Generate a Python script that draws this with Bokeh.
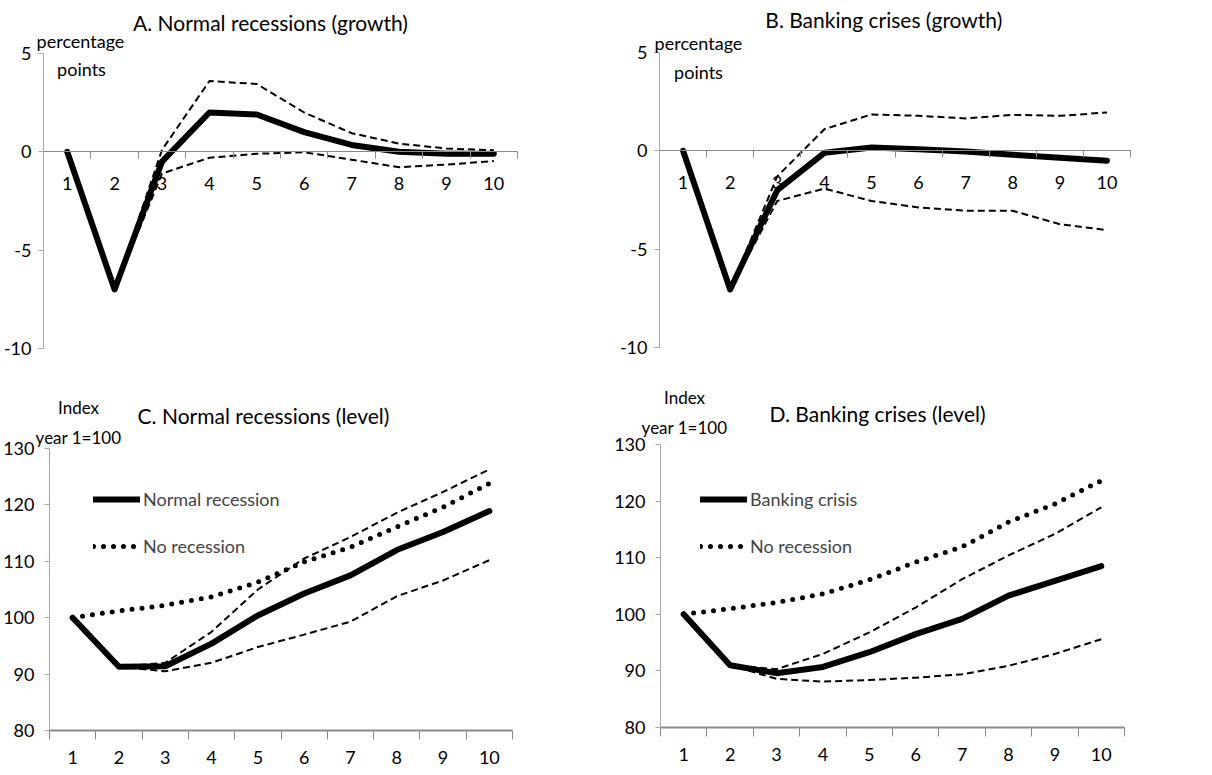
from bokeh.plotting import figure
from bokeh.layouts import column, row
from bokeh.models import Range1d, FixedTicker, Label, Legend, LegendItem, PrintfTickFormatter
from bokeh.embed import file_html
from bokeh.resources import INLINE

FONT = "Lato"
AXIS_COLOR = "#8a8a8a"
YAXIS_COLOR = "#a8a8a8"

# ---------------- data ----------------
years = [1, 2, 3, 4, 5, 6, 7, 8, 9, 10]

# Panel A: normal recessions (growth, percentage points)
a_mean = [0, -7.0, -0.5, 2.0, 1.9, 1.0, 0.35, 0.0, -0.1, -0.1]
a_upper = [0, -7.0, 0.1, 3.6, 3.45, 2.0, 0.95, 0.42, 0.17, 0.08]
a_lower = [0, -7.0, -1.1, -0.3, -0.1, -0.02, -0.4, -0.78, -0.65, -0.47]

# Panel B: banking crises (growth, percentage points)
b_mean = [0, -7.05, -2.0, -0.1, 0.17, 0.08, -0.03, -0.2, -0.35, -0.5]
b_upper = [0, -7.05, -1.3, 1.1, 1.85, 1.78, 1.65, 1.83, 1.78, 1.95]
b_lower = [0, -7.05, -2.55, -1.92, -2.55, -2.88, -3.05, -3.05, -3.73, -4.03]

# Panel C: normal recessions (level, year 1 = 100)
c_mean = [100, 91.3, 91.4, 95.4, 100.4, 104.3, 107.5, 112.0, 115.2, 118.9]
c_none = [100, 101.2, 102.2, 103.7, 106.3, 109.9, 112.5, 116.1, 119.6, 123.8]
c_upper = [100, 91.3, 92.0, 97.5, 105.0, 110.5, 114.3, 118.6, 122.3, 126.3]
c_lower = [100, 91.3, 90.5, 92.0, 94.8, 97.0, 99.3, 103.8, 106.6, 110.2]

# Panel D: banking crises (level, year 1 = 100)
d_mean = [100, 91.0, 89.6, 90.7, 93.3, 96.5, 99.2, 103.3, 105.9, 108.5]
d_none = [100, 101.0, 102.1, 103.6, 106.1, 109.2, 111.9, 116.3, 119.5, 123.6]
d_upper = [100, 91.0, 90.3, 93.0, 96.8, 101.2, 106.2, 110.4, 114.2, 118.9]
d_lower = [100, 91.0, 88.6, 88.1, 88.4, 88.8, 89.4, 90.9, 93.0, 95.6]

growth_ticks = [-10, -5, 0, 5]
level_ticks = [80, 90, 100, 110, 120, 130]

titles = ["A. Normal recessions (growth)", "B.  Banking crises (growth)",
          "C. Normal recessions (level)", "D. Banking crises (level)"]

XLO, XHI = 0.5, 10.5


class Panel:
    """Figure whose frame fills it; axes drawn at fixed locations."""

    def __init__(self, fx, fy, w, h, px_lo, px_hi, py_top, py_bot, ylo, yhi, yticks, growth):
        self.fx, self.fy = fx, fy
        self.sx = (px_hi - px_lo) / (XHI - XLO)
        self.sy = (py_bot - py_top) / (yhi - ylo)
        self.px_lo, self.py_bot, self.ylo = px_lo, py_bot, ylo
        x0 = XLO - (px_lo - fx) / self.sx
        x1 = XHI + (fx + w - px_hi) / self.sx
        y1 = yhi + (py_top - fy) / self.sy
        y0 = ylo - (fy + h - py_bot) / self.sy
        p = figure(width=w, height=h, x_range=Range1d(x0, x1), y_range=Range1d(y0, y1),
                   output_backend="svg", toolbar_location=None, title=None,
                   min_border_left=0, min_border_right=0, min_border_top=0, min_border_bottom=0)
        p.xgrid.visible = False
        p.ygrid.visible = False
        p.outline_line_color = None
        p.background_fill_color = "white"
        p.border_fill_color = "white"

        xa = p.xaxis[0]
        xa.ticker = FixedTicker(ticks=years, minor_ticks=[y - 0.5 for y in years] + [years[-1] + 0.5])
        xa.bounds = (XLO, XHI)
        xa.axis_line_color = AXIS_COLOR
        xa.major_tick_line_color = None
        xa.major_tick_out = 0
        xa.major_tick_in = 0
        xa.minor_tick_line_color = AXIS_COLOR
        xa.minor_tick_in = 0
        xa.major_label_text_font = FONT
        xa.major_label_text_font_size = "18px"
        xa.major_label_text_color = "black"
        if growth:
            xa.fixed_location = 0
            xa.axis_line_width = 1
            xa.minor_tick_out = 7
            xa.major_label_standoff = 18
        else:
            xa.fixed_location = ylo
            xa.axis_line_width = 2
            xa.minor_tick_line_width = 1
            xa.minor_tick_out = 9
            xa.major_label_standoff = 11

        ya = p.yaxis[0]
        ya.ticker = FixedTicker(ticks=yticks)
        ya.formatter = PrintfTickFormatter(format="%d")
        ya.bounds = (ylo, yhi)
        ya.fixed_location = XLO
        ya.axis_line_color = YAXIS_COLOR
        ya.major_tick_line_color = YAXIS_COLOR
        ya.major_tick_out = 5
        ya.major_tick_in = 0
        ya.minor_tick_line_color = None
        ya.major_label_standoff = 7 if growth else 10
        ya.major_label_text_font = FONT
        ya.major_label_text_font_size = "18px"
        ya.major_label_text_color = "black"
        self.p = p

    def dx(self, page_x):
        return XLO + (page_x - self.px_lo) / self.sx

    def dy(self, page_y):
        return self.ylo + (self.py_bot - page_y) / self.sy

    def text(self, page_x, page_y, text, size):
        self.p.add_layout(Label(x=self.dx(page_x), y=self.dy(page_y), text=text,
                                text_align="center", text_baseline="middle",
                                text_font=FONT, text_font_size=size, text_color="black"))

    def band(self, lo, hi):
        self.p.line(years, hi, line_color="black", line_width=2, line_dash="7 4")
        self.p.line(years, lo, line_color="black", line_width=2, line_dash="7 4")

    def mean(self, vals):
        return self.p.line(years, vals, line_color="black", line_width=6,
                           line_join="round", line_cap="round")

    def dotted(self, vals):
        return self.p.line(years, vals, line_color="black", line_width=5,
                           line_dash="0 10", line_cap="round")

    def legend(self, items, left_x, top_y, h):
        leg = Legend(items=[LegendItem(label=t, renderers=[r]) for t, r in items],
                     location=(left_x - self.fx, self.fy + h - top_y - 69),
                     border_line_color=None, background_fill_alpha=0,
                     padding=0, margin=0, spacing=25, glyph_width=47, glyph_height=22,
                     label_height=22, label_standoff=3,
                     label_text_font=FONT, label_text_font_size="18px")
        self.p.add_layout(leg)


# ---------- Panel A ----------
A = Panel(0, 0, 606, 380, 43, 517, 53, 348, -10, 5, growth_ticks, True)
A.band(a_lower, a_upper)
A.mean(a_mean)
A.text(270, 22, titles[0], "21px")
A.text(80, 40, "percentage", "18px")
A.text(81, 68, "points", "18px")

# ---------- Panel B ----------
B = Panel(606, 0, 604, 380, 659, 1130, 52, 347, -10, 5, growth_ticks, True)
B.band(b_lower, b_upper)
B.mean(b_mean)
B.text(886, 19, titles[1], "21px")
B.text(698, 42, "percentage", "18px")
B.text(698, 71, "points", "18px")

# ---------- Panel C ----------
C = Panel(0, 380, 606, 393, 49, 512, 448, 730, 80, 130, level_ticks, False)
C.band(c_lower, c_upper)
rc_none = C.dotted(c_none)
rc_mean = C.mean(c_mean)
C.text(263, 415, titles[2], "21px")
C.text(78, 407, "Index", "17px")
C.text(78, 437, "year 1=100", "17px")
C.legend([("Normal recession", rc_mean), ("No recession", rc_none)], 93, 488, 393)

# ---------- Panel D ----------
D = Panel(606, 380, 604, 393, 660, 1124, 444, 727, 80, 130, level_ticks, False)
D.band(d_lower, d_upper)
rd_none = D.dotted(d_none)
rd_mean = D.mean(d_mean)
D.text(877, 413, titles[3], "21px")
D.text(684, 397, "Index", "17px")
D.text(684, 427, "year 1=100", "17px")
D.legend([("Banking crisis", rd_mean), ("No recession", rd_none)], 700, 488, 393)

layout = column(row(A.p, B.p), row(C.p, D.p))

open("out.html", "w").write(file_html(layout, INLINE))
